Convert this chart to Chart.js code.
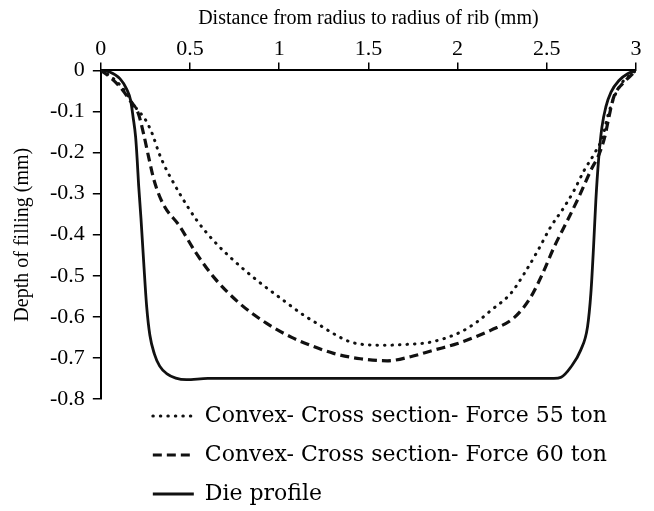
<!DOCTYPE html>
<html>
<head>
<meta charset="utf-8">
<script src="https://cdn.jsdelivr.net/npm/chart.js@4.4.1/dist/chart.umd.min.js"></script>
<style>
  html, body { margin: 0; padding: 0; background: #fff; }
  #wrap { width: 654px; height: 511px; position: relative; }
</style>
</head>
<body>
<div id="wrap"><canvas id="depthChart"></canvas></div>
<script>
// Die profile
const dieX = [0, 0.05, 0.107, 0.144, 0.167, 0.181, 0.195, 0.204, 0.212, 0.225, 0.24, 0.257, 0.275, 0.3, 0.33, 0.369, 0.42, 0.48, 0.6, 1.5,
  2.54, 2.58, 2.635, 2.69, 2.728, 2.747, 2.762, 2.775, 2.79, 2.809, 2.831, 2.86, 2.906, 2.953, 3];
const dieY = [0, -0.004, -0.02, -0.045, -0.073, -0.114, -0.162, -0.219, -0.28, -0.36, -0.465, -0.575, -0.645, -0.69, -0.72, -0.738, -0.749, -0.753, -0.75, -0.75,
  -0.75, -0.747, -0.722, -0.681, -0.625, -0.543, -0.43, -0.316, -0.219, -0.138, -0.089, -0.053, -0.024, -0.008, 0];

// Convex - cross section - 55 ton
const f55X = [0, 0.05, 0.1, 0.15, 0.172, 0.2, 0.25, 0.29, 0.325, 0.36, 0.39, 0.453, 0.538, 0.631, 0.743, 0.875, 1.024, 1.137, 1.212, 1.305, 1.399,
  1.493, 1.605, 1.717, 1.83, 1.923, 2.017, 2.11, 2.185, 2.298, 2.373, 2.448, 2.522, 2.597, 2.653, 2.71, 2.766, 2.813, 2.84, 2.878, 2.925, 2.972, 3];
const f55Y = [0, -0.013, -0.032, -0.06, -0.077, -0.093, -0.12, -0.156, -0.2, -0.235, -0.26, -0.308, -0.365, -0.414, -0.462, -0.511, -0.56, -0.596, -0.616, -0.641, -0.661,
  -0.668, -0.669, -0.667, -0.663, -0.653, -0.637, -0.612, -0.585, -0.543, -0.495, -0.44, -0.381, -0.333, -0.292, -0.243, -0.203, -0.162, -0.114, -0.065, -0.028, -0.01, 0];

// Convex - cross section - 60 ton
const f60X = [0, 0.05, 0.107, 0.163, 0.21, 0.24, 0.27, 0.3, 0.35, 0.44, 0.53, 0.64, 0.78, 0.93, 1.07, 1.174, 1.305, 1.455, 1.605, 1.736, 1.867, 2.0,
  2.11, 2.185, 2.317, 2.41, 2.476, 2.541, 2.616, 2.68, 2.747, 2.794, 2.825, 2.848, 2.875, 2.925, 2.972, 3];
const f60Y = [0, -0.016, -0.04, -0.073, -0.105, -0.155, -0.215, -0.27, -0.326, -0.378, -0.442, -0.507, -0.568, -0.616, -0.65, -0.669, -0.689, -0.702, -0.707, -0.697, -0.681, -0.665,
  -0.647, -0.633, -0.602, -0.552, -0.495, -0.43, -0.365, -0.308, -0.243, -0.203, -0.162, -0.114, -0.065, -0.032, -0.012, 0];

const seriesLabels = ['Convex- Cross section- Force 55 ton', 'Convex- Cross section- Force 60 ton', 'Die profile'];
const xTitle = 'Distance from radius to radius of rib (mm)';
const yTitle = 'Depth of filling (mm)';

const toPoints = (xs, ys) => xs.map((x, i) => ({ x: x, y: ys[i] }));
// 1 instead of 1.0, -0.1 stays -0.1
const plainNum = (v) => String(parseFloat(Number(v).toFixed(2)));

const serif = 'Liberation Serif';
const ink = '#000';

// move the legend to sit under the axis like in the figure
const legendNudge = {
    id: 'legendNudge',
    afterLayout(chart) {
        const lg = chart.legend;
        if (!lg) return;
        lg.left += 35; lg.right += 35;
        lg.top -= 11; lg.bottom -= 11;
    }
};

const ctx = document.getElementById('depthChart').getContext('2d');
new Chart(ctx, {
    type: 'scatter',
    data: {
        datasets: [{
            label: seriesLabels[0],
            data: toPoints(f55X, f55Y),
            borderColor: '#111',
            borderWidth: 3,
            borderDash: [0.5, 7],
            borderCapStyle: 'round'
        }, {
            label: seriesLabels[1],
            data: toPoints(f60X, f60Y),
            borderColor: '#111',
            borderWidth: 3.2,
            borderDash: [9, 5],
            borderCapStyle: 'butt'
        }, {
            label: seriesLabels[2],
            data: toPoints(dieX, dieY),
            borderColor: '#111',
            borderWidth: 2.8,
            borderCapStyle: 'butt'
        }]
    },
    options: {
        responsive: true,
        maintainAspectRatio: false,
        animation: false,
        showLine: true,
        elements: {
            point: { radius: 0, hoverRadius: 0 },
            line: { cubicInterpolationMode: 'monotone', fill: false }
        },
        layout: { padding: { top: 7, right: 18, bottom: -15, left: 0 } },
        scales: {
            x: {
                type: 'linear',
                position: 'top',
                min: 0, max: 3,
                ticks: { stepSize: 0.5, color: ink, font: { family: serif, size: 22 }, padding: 0, maxRotation: 0, callback: plainNum },
                grid: { drawOnChartArea: false, drawTicks: true, tickLength: 8, color: ink, lineWidth: 1.5 },
                border: { display: true, color: ink, width: 2 },
                title: { display: true, text: xTitle, color: ink, font: { family: serif, size: 20 }, padding: { top: 0, bottom: 5 } }
            },
            y: {
                type: 'linear',
                min: -0.8, max: 0,
                ticks: { stepSize: 0.1, color: ink, font: { family: serif, size: 22 }, padding: 8, callback: plainNum },
                grid: { drawOnChartArea: false, drawTicks: true, tickLength: 8, color: ink, lineWidth: 1.5 },
                border: { display: true, color: ink, width: 2 },
                title: { display: true, text: yTitle, color: ink, font: { family: serif, size: 20 }, padding: { top: 11, bottom: 7 } }
            }
        },
        plugins: {
            tooltip: { enabled: false },
            legend: {
                position: 'bottom',
                align: 'start',
                fullSize: false,
                labels: {
                    color: '#222',
                    font: { family: 'DejaVu Serif', size: 22 },
                    padding: 17,
                    usePointStyle: true,
                    pointStyleWidth: 41,
                    generateLabels: (chart) => chart.data.datasets.map((ds, i) => ({
                        text: ds.label,
                        strokeStyle: ds.borderColor,
                        fillStyle: 'rgba(0,0,0,0)',
                        lineWidth: ds.borderWidth,
                        lineDash: ds.borderDash || [],
                        lineCap: ds.borderCapStyle,
                        pointStyle: 'line',
                        hidden: false,
                        datasetIndex: i
                    }))
                }
            }
        }
    },
    plugins: [legendNudge]
});
</script>
</body>
</html>
